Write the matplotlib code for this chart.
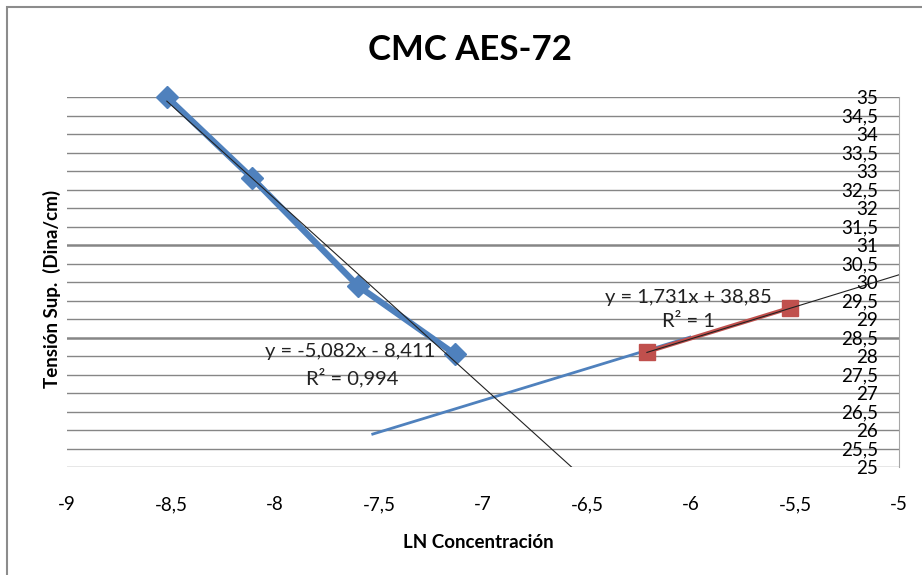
import numpy as np
import matplotlib
matplotlib.use('Agg')
import matplotlib.pyplot as plt
from matplotlib.patches import Rectangle

plt.rcParams['font.family'] = ['Lato', 'DejaVu Sans']

# serie 1 (rombos azules)
ln_conc_1 = [-8.52, -8.11, -7.60, -7.135]
tension_1 = [35.0, 32.81, 29.89, 28.05]
# serie 2 (cuadrados rojos)
ln_conc_2 = [-6.212, -5.524]
tension_2 = [28.11, 29.30]
# linea azul fina
ln_conc_3 = [-7.53, -6.005]
tension_3 = [25.89, 28.51]

# lineas de tendencia: pendiente, ordenada
trend_1 = [-5.082, -8.411]
trend_2 = [1.731, 38.85]
label_1 = ['y = -5,082x - 8,411', 'R² = 0,994']
label_2 = ['y = 1,731x + 38,85', 'R² = 1']

x_ticks = [-9, -8.5, -8, -7.5, -7, -6.5, -6, -5.5, -5]
y_ticks = np.arange(25, 35.01, 0.5)

blue = '#4F81BD'
red = '#C0504D'
grid_col = '#868686'

fig = plt.figure(figsize=(9.22, 5.75), dpi=100)
ax = fig.add_axes([67/922, 1 - 467/575, (899 - 67)/922, (467 - 97)/575])
ax.set_xlim(-9, -5)
ax.set_ylim(25, 35)

for y in y_ticks:
    lw = 1.8 if y in (31, 28.5) else 1.0
    ax.axhline(y, color=grid_col, lw=lw, zorder=1)

ax.plot(ln_conc_3, tension_3, color=blue, lw=2, zorder=2)
ax.plot(ln_conc_1, tension_1, color=blue, lw=4.5, marker='D', markersize=11, zorder=3, clip_on=False)
ax.plot(ln_conc_2, tension_2, color=red, lw=3, marker='s', markersize=11.5, zorder=3, clip_on=False)

xt = np.linspace(min(ln_conc_1), -5, 50)
ax.plot(xt, trend_1[0]*xt + trend_1[1], color='#222222', lw=0.8, zorder=4)
xt = np.linspace(min(ln_conc_2), -5, 50)
ax.plot(xt, trend_2[0]*xt + trend_2[1], color='#222222', lw=0.8, zorder=4)

ax.text(-7.64, 28.11, label_1[0], ha='center', va='center', fontsize=14.5, color='#222222', zorder=5)
ax.text(-7.63, 27.43, label_1[1], ha='center', va='center', fontsize=14.5, color='#222222', zorder=5)
ax.text(-6.014, 29.59, label_2[0], ha='center', va='center', fontsize=14.5, color='#222222', zorder=5)
ax.text(-6.014, 28.92, label_2[1], ha='center', va='center', fontsize=14.5, color='#222222', zorder=5)

for s in ['top', 'bottom', 'right']:
    ax.spines[s].set_visible(False)
ax.spines['left'].set_position(('data', -5))
ax.spines['left'].set_color('#A6A6A6')
ax.spines['left'].set_zorder(1)

ax.set_xticks(x_ticks)
ax.set_xticklabels([('%g' % v).replace('.', ',') for v in x_ticks])
ax.set_yticks(y_ticks)
ax.set_yticklabels([('%g' % v).replace('.', ',') for v in y_ticks])
ax.tick_params(axis='x', length=0, pad=21, labelsize=13.5)
ax.tick_params(axis='y', length=0, pad=15, labelsize=13.5)

fig.text(470/922, 1 - 50/575, 'CMC AES-72', ha='center', va='center', fontsize=25, fontweight='bold')
fig.text(478/922, 1 - 543/575, 'LN Concentración', ha='center', va='center', fontsize=13.5, fontweight='bold')
fig.text(52/922, 1 - 289/575, 'Tensión Sup.  (Dina/cm)', ha='center', va='center', rotation=90,
         fontsize=13.5, fontweight='bold')

fig.add_artist(Rectangle((7/922, -0.05), 1.2, 1 - 7/575 + 0.05, transform=fig.transFigure,
                         fill=False, edgecolor='#8C8C8C', lw=1.5))

fig.savefig('out.png', dpi=100)
